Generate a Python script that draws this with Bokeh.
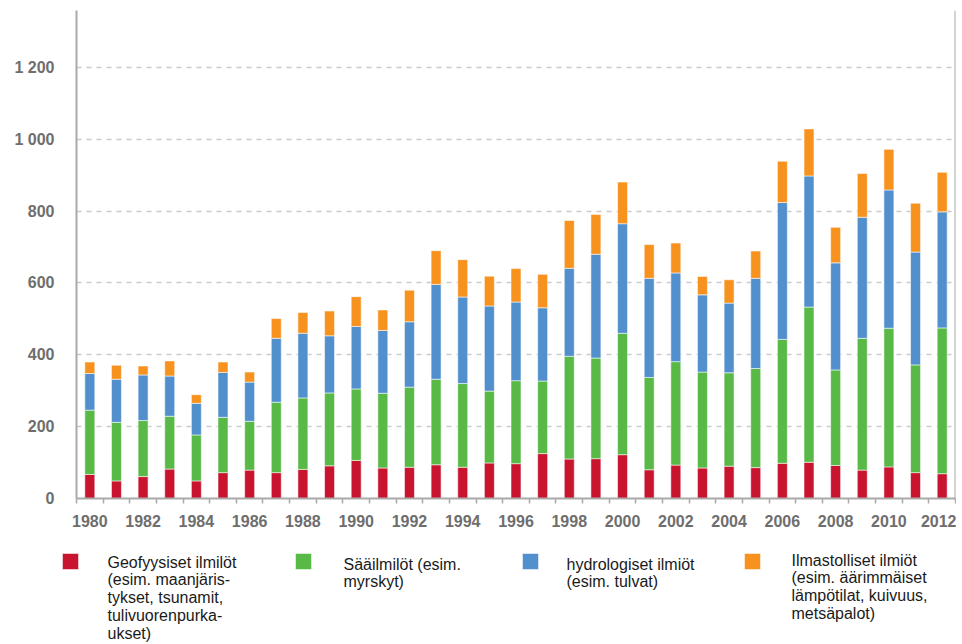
from bokeh.plotting import figure
from bokeh.models import ColumnDataSource, Range1d, FixedTicker, Span
from bokeh.layouts import column
from bokeh.embed import file_html
from bokeh.resources import INLINE
from bokeh.core.properties import value

# ---- data ----
years = list(range(1980, 2013))
geophysical = [67, 49, 61, 82, 49, 72, 79, 72, 81, 91, 106, 85, 87,
               94, 87, 99, 97, 125, 110, 111,
               122, 80, 93, 85, 90, 86,
               98, 101, 92, 79, 88, 72, 69]
meteorological = [179, 163, 156, 147, 128, 154, 136, 196, 199, 203, 199, 208, 223,
                  238, 233, 200, 231, 202, 286, 280,
                  338, 257, 288, 267, 260, 276,
                  345, 432, 266, 367, 386, 300, 406]
hydrological = [102, 120, 127, 112, 88, 125, 109, 178, 180, 159, 174, 175, 182,
                264, 241, 237, 219, 204, 245, 289,
                305, 276, 247, 215, 194, 251,
                381, 365, 298, 337, 385, 314, 323]
climatological = [32, 39, 25, 42, 24, 29, 28, 55, 58, 69, 83, 57, 88,
                  94, 104, 83, 93, 93, 133, 111,
                  116, 94, 83, 51, 65, 76,
                  115, 131, 99, 122, 113, 136, 110]

legend_texts = [
    "Geofyysiset ilmilöt\n(esim. maanjäris-\ntykset, tsunamit,\ntulivuorenpurka-\nukset)",
    "Sääilmilöt (esim.\nmyrskyt)",
    "hydrologiset ilmiöt\n(esim. tulvat)",
    "Ilmastolliset ilmiöt\n(esim. äärimmäiset\nlämpötilat, kuivuus,\nmetsäpalot)",
]
y_ticks = [0, 200, 400, 600, 800, 1000, 1200]
y_tick_labels = ["0", "200", "400", "600", "800", "1 000", "1 200"]
x_label_years = list(range(1980, 2013, 2))

# ---- styles ----
colors = ["#c8142f", "#58b947", "#5190cc", "#f7921f"]
AXIS_GRAY = "#a9a9a9"
LABEL_GRAY = "#6e6e6e"
LABEL_FONT = "Liberation Sans"
W = 956
H_MAIN = 543
H_LEG = 100

src = ColumnDataSource(dict(year=years, geo=geophysical, met=meteorological,
                            hyd=hydrological, cli=climatological))

p = figure(width=W, height=H_MAIN,
           x_range=Range1d(1979.5, 2012.5), y_range=Range1d(0, 1358.6),
           output_backend="svg", toolbar_location=None,
           min_border_left=76, min_border_right=1, min_border_top=10,
           min_border_bottom=H_MAIN - 498)
p.frame_align = False
p.outline_line_color = None
p.background_fill_color = "white"
p.border_fill_color = "white"

p.vbar_stack(["geo", "met", "hyd", "cli"], x="year", width=0.375, color=colors,
             line_color="white", line_alpha=0.55, line_width=1, source=src)

# x axis
p.xaxis.ticker = FixedTicker(ticks=x_label_years,
                             minor_ticks=[y - 0.5 for y in years] + [years[-1] + 0.5])
p.xaxis.major_label_overrides = {y: str(y) for y in x_label_years}
p.xaxis.major_tick_out = 0
p.xaxis.major_tick_in = 0
p.xaxis.minor_tick_out = 5
p.xaxis.minor_tick_in = 0
p.xaxis.minor_tick_line_color = AXIS_GRAY
p.xaxis.minor_tick_line_width = 1.5
p.xaxis.axis_line_color = AXIS_GRAY
p.xaxis.axis_line_width = 2
p.xaxis.major_label_standoff = 11

# y axis
p.yaxis.ticker = FixedTicker(ticks=y_ticks)
p.yaxis.major_label_overrides = dict(zip(y_ticks, y_tick_labels))
p.yaxis.major_tick_out = 0
p.yaxis.major_tick_in = 0
p.yaxis.minor_tick_out = 0
p.yaxis.minor_tick_in = 0
p.yaxis.axis_line_color = AXIS_GRAY
p.yaxis.axis_line_width = 2
p.yaxis.major_label_standoff = 22

for ax in (p.xaxis, p.yaxis):
    ax.major_label_text_font = LABEL_FONT
    ax.major_label_text_font_size = "16px"
    ax.major_label_text_font_style = "bold"
    ax.major_label_text_color = LABEL_GRAY

p.xgrid.visible = False
p.ygrid.grid_line_color = "#cacaca"
p.ygrid.grid_line_width = 1.5
p.ygrid.grid_line_dash = "5 5"

p.add_layout(Span(location=2012.5, dimension="height",
                  line_color=AXIS_GRAY, line_width=2))

# ---- legend panel ----
leg = figure(width=W, height=H_LEG, x_range=Range1d(0, W), y_range=Range1d(H_LEG, 0),
             output_backend="svg", toolbar_location=None, min_border=0,
             x_axis_location=None, y_axis_location=None)
leg.frame_align = False
leg.outline_line_color = None
leg.grid.visible = False

sq_x = [70, 303, 530, 752]
sq_y = [18, 18, 18, 18]
leg.rect(x=sq_x, y=sq_y, width=16, height=16, fill_color=colors,
         line_color="white", line_alpha=0.5)

tx = [107, 343, 566, 791]
ty = [10, 12, 12, 8]
leg.text(x=tx, y=ty, text=legend_texts, text_font=value("Liberation Sans"),
         text_font_size="16px", text_baseline="top", text_align="left",
         text_line_height=1.05, text_color="#1a1a1a")

layout = column(p, leg, spacing=0)
open("out.html", "w").write(file_html(layout, INLINE))
